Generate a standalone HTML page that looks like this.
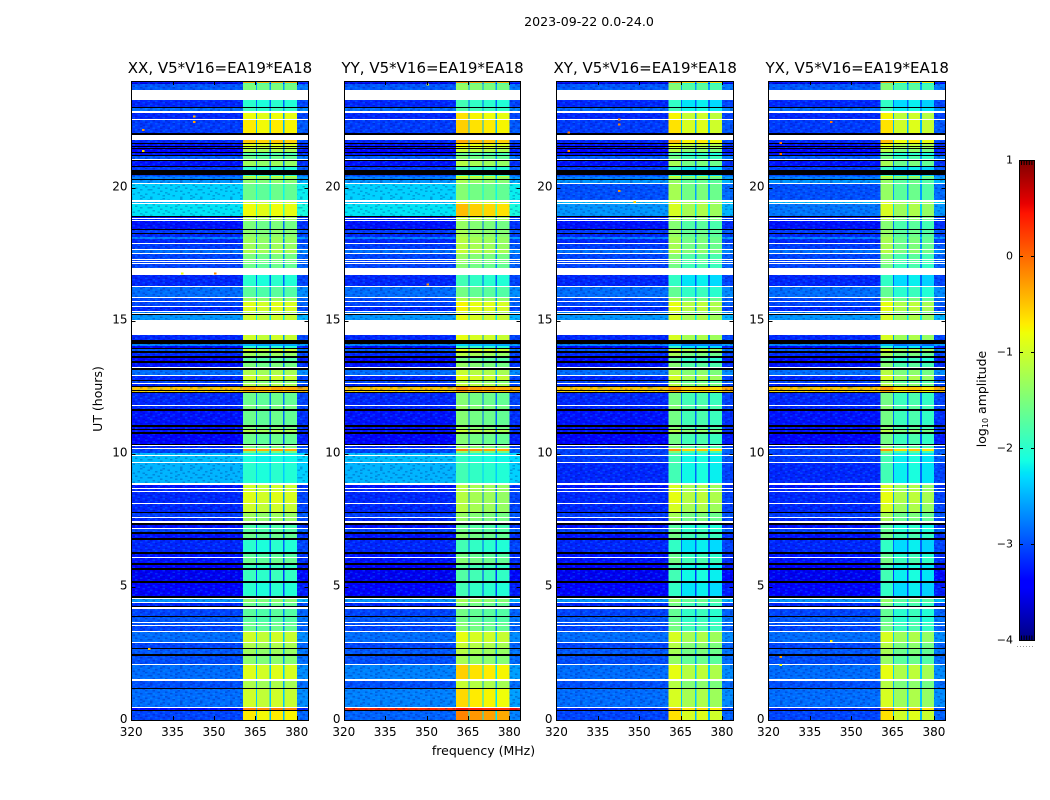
<!DOCTYPE html>
<html>
<head>
<meta charset="utf-8">
<title>2023-09-22 0.0-24.0</title>
<style>
html,body{margin:0;padding:0;background:#fff;}
svg{display:block;}
text{font-family:"DejaVu Sans","Liberation Sans",sans-serif;fill:#000;}
</style>
</head>
<body>
<svg id="fig" xmlns="http://www.w3.org/2000/svg" width="1050" height="800" viewBox="0 0 1050 800">
  <defs>
    <linearGradient id="jetGradient" x1="0" y1="1" x2="0" y2="0"></linearGradient>
    <pattern id="speckle" patternUnits="userSpaceOnUse" width="50" height="18"></pattern>
  </defs>
  <text x="589" y="26" font-size="12.6" text-anchor="middle">2023-09-22 0.0-24.0</text>
  <text x="483.5" y="755" font-size="12.5" text-anchor="middle">frequency (MHz)</text>
  <text x="0" y="0" font-size="12.5" text-anchor="middle" transform="translate(102,399) rotate(-90)">UT (hours)</text>
  <text x="0" y="0" font-size="12.5" text-anchor="middle" transform="translate(986,399) rotate(-90)">log<tspan font-size="8" dy="2">10</tspan><tspan dy="-2"> amplitude</tspan></text>
  <g id="panels"></g>
  <g id="colorbar"></g>
</svg>
<script>
// ---------- chart data ----------
const panelTitles = ["XX, V5*V16=EA19*EA18","YY, V5*V16=EA19*EA18","XY, V5*V16=EA19*EA18","YX, V5*V16=EA19*EA18"];
const xTickValues = [320,335,350,365,380];
const yTickValues = [0,5,10,15,20];
const colorbarTickValues = [1,0,-1,-2,-3,-4];
const colorbarTickLabels = ["1","0","\u22121","\u22122","\u22123","\u22124"];

// Time scans from UT 24 downward: length in time samples (24 h = 639 samples)
const W = null;   // flagged scan, not plotted (white)
const K = -9;     // zero-amplitude scan (black)
const scanSamples = [
 2,1,6,10,7,1,3,2,6,1,
 13,2,5,3,1,2,1,1,1,3,
 1,2,1,3,1,1,5,1,3,5,
 1,1,2,1,3,1,16,2,1,1,
 12,1,1,1,1,1,8,1,3,1,
 3,2,4,1,5,1,3,1,5,1,
 1,1,1,1,4,7,11,1,10,1,
 3,1,4,1,4,1,1,1,1,5,
 15,5,4,2,2,1,2,2,3,2,
 3,2,4,1,2,5,1,4,1,2,
 1,2,1,3,1,1,1,12,1,3,
 2,14,2,2,1,2,2,10,1,1,
 2,1,2,2,2,1,6,1,20,2,
 3,1,2,1,11,1,8,1,4,1,
 3,2,2,3,1,3,2,4,2,12,
 2,3,1,5,2,3,2,11,2,13,
 2,1,3,1,3,1,2,7,1,5,
 1,2,1,5,1,10,1,5,1,5,
 2,8,1,14,2,7,1,18,1,2,
 1,9
];
// Off-band level (log10 amplitude) of each scan
const scanOffBand = [
 -3.3,-3.6,-2.95,W,-3.2,K,-2.85,W,-3.2,W,
 -3.1,K,W,-3.2,K,-3.3,K,-3.3,K,-3.4,
 K,-3.3,K,-2.95,W,K,-3.3,K,-3.1,K,
 -3.05,-2.85,-2.75,K,-2.65,W,-2.35,W,-2.45,W,
 -2.25,K,-3.3,W,-3.2,W,-3.3,K,-3.1,K,
 -3.2,-2.75,-3.2,W,-3.1,W,-2.85,W,-3.05,W,
 -3.05,W,-3.05,W,-3.05,W,-3.2,W,-2.85,W,
 -3.05,W,-3.05,W,-3.2,W,-2.75,W,K,-2.65,
 W,-3.2,K,-2.75,-3.4,K,-2.95,K,-3.2,K,
 -3.4,K,-3.3,W,K,-2.85,W,-3.2,K,-3.05,
 W,-3.2,K,-0.5,K,-0.6,K,-3.2,W,-3.2,
 K,-3.3,K,-3.3,K,-3.3,K,-3.4,K,W,
 -3.2,W,-3.05,-3.05,-2.45,W,-2.45,W,-2.5,W,
 -3.3,W,-3.2,W,-3.2,W,-3.2,K,-3.1,W,
 -3.2,W,K,-3.3,W,-3.05,K,-3.3,K,-3.2,
 K,-3.3,W,-3.3,K,-3.4,K,-3.5,K,-3.4,
 K,W,-2.65,W,-3.2,K,W,-3.05,K,-2.95,
 W,-3.0,W,-3.05,W,-2.85,W,-3.05,K,-2.95,
 K,-3.0,W,-2.85,W,-3.0,K,-2.85,W,-3.4,
 K,-3.05
];
// In-band level (log10 amplitude) of each scan, 360.6-380 MHz
const scanInBand = [
 -0.3,-1.8,-1.5,W,-2.0,K,-1.9,W,-0.8,W,
 -0.7,K,W,-0.5,K,-0.9,K,-1.0,K,-1.2,
 K,-1.8,K,-1.6,W,K,-1.3,K,-2.0,K,
 -2.0,-1.0,-1.3,K,-1.4,W,-1.6,W,-1.0,W,
 -0.8,K,-1.2,W,-1.2,W,-1.5,K,-1.4,K,
 -1.4,-1.3,-1.3,W,-1.3,W,-1.2,W,-1.5,W,
 -1.5,W,-1.5,W,-1.6,W,-2.0,W,-1.7,W,
 -1.3,W,-0.9,W,-0.9,W,-1.2,W,K,-1.0,
 W,-1.0,K,-2.5,-2.0,K,-1.0,K,-1.3,K,
 -1.7,K,-1.5,W,K,-1.2,W,-1.0,K,-1.4,
 W,-1.2,K,-0.3,K,-0.4,K,-1.6,W,-1.5,
 K,-1.6,K,-1.5,K,-1.2,K,-1.6,K,W,
 -1.5,W,-0.3,-1.5,-2.1,W,-2.1,W,-2.0,W,
 -1.0,W,-1.0,W,-0.9,W,-1.0,K,-1.3,W,
 -1.3,W,K,-1.8,W,-1.7,K,-1.6,K,-2.0,
 K,-1.7,W,-1.6,K,-1.9,K,-1.9,K,-2.0,
 K,W,-1.4,W,-1.6,K,W,-1.7,K,-1.7,
 W,-1.6,W,-1.6,W,-1.0,W,-1.2,K,-1.3,
 K,-1.4,W,-0.9,W,-1.2,K,-1.0,W,-0.1,
 K,-0.7
];

// Sub-band edges (MHz) and per-correlation offsets of the four sub-bands
const subBandStart = [360.6,365.6,370.7,375.6];
const subBandEnd = [365.2,370.2,375.0,380.0];
const subBandShiftXX = [0,-0.08,0,-0.05];
const subBandShiftYY = [0.15,0.05,0,-0.05];
const subBandShiftXY = [0.05,-0.25,-0.2,-0.3];
const subBandShiftYX = [0.05,-0.3,-0.2,-0.35];

// Scan-specific corrections: polarization panel, scan number (1-based), levels
const fixPanel = [1,1,1,1,1,1,1,1,1,1,1, 2,2,2,2,2,2, 3,3,3,3,3,3];
const fixScan = [190,192,188,184,41,131,133,135,137,139,141, 37,41,125,127,129,190, 37,41,125,127,129,190];
const fixOffBand = [0.35,-2.9,-2.75,-2.75,-2.25,-3.3,-3.2,-3.2,-3.2,-3.1,-3.2, -3.0,-2.65,-3.1,-3.1,-3.2,-3.2, -3.0,-2.8,-3.1,-3.1,-3.2,-3.2];
const fixInBand = [0.35,-0.3,-0.75,-0.7,-0.6,-1.3,-1.3,-1.3,-1.3,-1.5,-1.5, -1.3,-1.0,-1.9,-1.9,-1.9,-0.4, -1.4,-1.0,-1.9,-1.9,-1.9,-0.3];

// Isolated hot pixels
const hotPanel = [0,0,0,0,0,0,0, 1,1, 2,2,2,2,2,2, 3,3,3,3,3,3];
const hotFreq = [342.4,342.4,324,324,350,338,326, 350,350, 342.4,342.4,324,324,342.4,348, 342.4,324,324,324,342.4,324];
const hotUT = [22.7,22.5,22.2,21.4,16.8,16.8,2.7, 23.9,16.4, 22.6,22.4,22.1,21.4,19.9,19.5, 22.5,21.7,21.3,2.4,3.0,2.1];
const hotLevel = [-0.4,-0.3,-0.3,-0.6,-0.2,-0.8,-0.5, -0.9,-0.2, -0.2,-0.1,-0.1,-0.2,-0.2,-0.6, -0.1,-0.1,0,-0.3,-0.7,-0.8];

// Receiver-noise texture tile, sketched by eye ('d' darker, 'l' lighter)
const speckleRows = [
 "d..l.d...l..dl..d.l.",
 ".l..d..dl...d...l..d",
 "..d...l...d...ld...l",
 "l...dl..d..l.d...d..",
 ".d.l...l...d...l..d.",
 "...d..d..ld...d...l.",
 "dl...l..d....l..d..d",
 "..l.d...l.d.d..l...l",
 ".d...ld....l...d.l..",
 "l..d...d.l...dl...d.",
 "..l..d...d.l....d..l",
 "d...l..l....d.l..d.."
];

// ---------- layout ----------
const NS = "http://www.w3.org/2000/svg";
const panelLeft = [131.2,343.8,556.4,768.4];
const panelWidth = 176.6, plotTop = 81, plotBottom = 720;
const freqMin = 320, freqMax = 384, utMax = 24, samplesPerDay = 639;
const cbarLeft = 1019, cbarWidth = 15, cbarTop = 160, cbarBottom = 640, cbarMin = -4, cbarMax = 1;

function xScale(p, f){ return panelLeft[p] + (f - freqMin) / (freqMax - freqMin) * panelWidth; }
function yScale(ut){ return plotBottom - ut / utMax * (plotBottom - plotTop); }
function cbarScale(v){ return cbarBottom - (v - cbarMin) / (cbarMax - cbarMin) * (cbarBottom - cbarTop); }

function interp(t, pts){
  for (let i = 1; i < pts.length; i++){
    if (t <= pts[i][0]){
      const a = pts[i-1], b = pts[i];
      return a[1] + (t - a[0]) / (b[0] - a[0]) * (b[1] - a[1]);
    }
  }
  return pts[pts.length-1][1];
}
function jet(t){
  t = Math.max(0, Math.min(1, t));
  const r = interp(t, [[0,0],[0.35,0],[0.66,1],[0.89,1],[1,0.5]]);
  const g = interp(t, [[0,0],[0.125,0],[0.375,1],[0.64,1],[0.91,0],[1,0]]);
  const b = interp(t, [[0,0.5],[0.11,1],[0.34,1],[0.65,0],[1,0]]);
  return "rgb(" + Math.round(r*255) + "," + Math.round(g*255) + "," + Math.round(b*255) + ")";
}
function levelColor(v){ return jet((v - cbarMin) / (cbarMax - cbarMin)); }

function svgEl(parent, tag, attrs){
  const el = document.createElementNS(NS, tag);
  for (const k in attrs) el.setAttribute(k, attrs[k]);
  parent.appendChild(el);
  return el;
}

// texture tile
const speckleTile = document.getElementById("speckle");
speckleRows.forEach(function(row, r){
  row.split("").forEach(function(ch, c){
    if (ch === ".") return;
    svgEl(speckleTile, "rect", {x:c*2.5, y:r*1.5, width:2.5, height:1.5, fill:ch === "d" ? "rgba(0,0,110,0.24)" : "rgba(0,210,255,0.20)"});
  });
});

// ---------- heatmap panels ----------
const panelsGroup = document.getElementById("panels");
const subBandShifts = [subBandShiftXX, subBandShiftYY, subBandShiftXY, subBandShiftYX];

function scanLevels(p, idx){
  let off = scanOffBand[idx], inb = scanInBand[idx];
  for (let i = 0; i < fixPanel.length; i++){
    if (fixPanel[i] === p && fixScan[i] === idx + 1){ off = fixOffBand[i]; inb = fixInBand[i]; }
  }
  return [off, inb];
}

function drawCell(group, p, f0, f1, ut0, ut1, level){
  const x0 = xScale(p, f0), x1 = xScale(p, f1), y0 = yScale(ut0), y1 = yScale(ut1);
  const cell = svgEl(group, "rect", {x:x0, y:y0, width:x1-x0, height:y1-y0, fill:levelColor(level), "shape-rendering":"crispEdges"});
  
  
}

panelTitles.forEach(function(title, p){
  const g = svgEl(panelsGroup, "g", {});
  
  

  const heat = svgEl(g, "g", {});
  
  

  let ut = utMax;
  scanSamples.forEach(function(n, idx){
    const utLow = ut - n / samplesPerDay * utMax;
    const lv = scanLevels(p, idx);
    const off = lv[0], inb = lv[1];
    if (off === K){
      const band = svgEl(heat, "rect", {x:xScale(p,freqMin), y:yScale(ut), width:panelWidth, height:yScale(utLow)-yScale(ut), fill:"#000", "shape-rendering":"crispEdges"});
      
      
    } else if (off !== W){
      const shifts = subBandShifts[p];
      const gap = off + 0.25 * (inb - off);
      drawCell(heat, p, freqMin, subBandStart[0], ut, utLow, off);
      for (let b = 0; b < 4; b++){
        drawCell(heat, p, subBandStart[b], subBandEnd[b], ut, utLow, inb + shifts[b]);
        if (b < 3) drawCell(heat, p, subBandEnd[b], subBandStart[b+1], ut, utLow, gap);
      }
      drawCell(heat, p, subBandEnd[3], freqMax, ut, utLow, off + 0.15);
      const tex = svgEl(heat, "rect", {x:xScale(p,freqMin), y:yScale(ut), width:xScale(p,subBandStart[0])-xScale(p,freqMin), height:yScale(utLow)-yScale(ut), fill:"url(#speckle)", "shape-rendering":"crispEdges"});
      
      
      const texEnd = svgEl(heat, "rect", {x:xScale(p,subBandEnd[3]), y:yScale(ut), width:xScale(p,freqMax)-xScale(p,subBandEnd[3]), height:yScale(utLow)-yScale(ut), fill:"url(#speckle)", "shape-rendering":"crispEdges"});
      
      
    }
    ut = utLow;
  });

  hotPanel.forEach(function(hp, i){
    if (hp !== p) return;
    const dot = svgEl(heat, "rect", {x:xScale(p,hotFreq[i]), y:yScale(hotUT[i]), width:2.5, height:2, fill:levelColor(hotLevel[i]), "shape-rendering":"crispEdges"});
    
    
  });

  const L = Math.round(panelLeft[p]) + 0.5, R = Math.round(panelLeft[p] + panelWidth) + 0.5;
  const frame = svgEl(g, "rect", {x:L, y:plotTop+0.5, width:R-L, height:plotBottom-plotTop, fill:"none", stroke:"#000", "stroke-width":1});
  
  

  const t = svgEl(g, "text", {x:panelLeft[p] + panelWidth/2 + 0.5, y:73, "font-size":15, "text-anchor":"middle"});
  
  
  t.textContent = title;

  xTickValues.forEach(function(v){
    const x = Math.round(xScale(p, v)) + 0.5;
    const t1 = svgEl(g, "line", {x1:x, x2:x, y1:plotBottom, y2:plotBottom-4, stroke:"#000"});
    
    
    const t2 = svgEl(g, "line", {x1:x, x2:x, y1:plotTop, y2:plotTop+4, stroke:"#000"});
    
    
    const lbl = svgEl(g, "text", {x:xScale(p, v), y:736, "font-size":12, "text-anchor":"middle"});
    
    
    lbl.textContent = v;
  });
  yTickValues.forEach(function(v){
    const y = Math.round(yScale(v)) + 0.5;
    const t1 = svgEl(g, "line", {x1:L, x2:L+4, y1:y, y2:y, stroke:"#000"});
    
    
    const t2 = svgEl(g, "line", {x1:R, x2:R-4, y1:y, y2:y, stroke:"#000"});
    
    
    const lbl = svgEl(g, "text", {x:L-4, y:yScale(v)+2.8, "font-size":12, "text-anchor":"end"});
    
    
    lbl.textContent = v;
  });
});

// ---------- colorbar ----------
const grad = document.getElementById("jetGradient");
[0,0.11,0.125,0.34,0.35,0.375,0.64,0.65,0.66,0.89,0.91,1].forEach(function(s){
  svgEl(grad, "stop", {offset:s, "stop-color":jet(s)});
});
const cb = document.getElementById("colorbar");
const cbRect = svgEl(cb, "rect", {x:cbarLeft+0.5, y:cbarTop+0.5, width:cbarWidth, height:cbarBottom-cbarTop, fill:"url(#jetGradient)", stroke:"#000", "stroke-width":1});



colorbarTickValues.forEach(function(v, i){
  const y = Math.round(cbarScale(v)) + 0.5;
  if (v !== cbarMin && v !== cbarMax){
    const a = svgEl(cb, "line", {x1:cbarLeft, x2:cbarLeft+4, y1:y, y2:y, stroke:"#000"});
    
    
    const b = svgEl(cb, "line", {x1:cbarLeft+cbarWidth+1, x2:cbarLeft+cbarWidth-3, y1:y, y2:y, stroke:"#000"});
    
    
  }
  const lbl = svgEl(cb, "text", {x:1013, y:cbarScale(v)+3.5, "font-size":11, "text-anchor":"end"});
  
  
  lbl.textContent = colorbarTickLabels[i];
});

const capTop = svgEl(cb, "line", {x1:cbarLeft+2, x2:cbarLeft+cbarWidth-1, y1:cbarTop+2.5, y2:cbarTop+2.5, stroke:"#000", "stroke-width":5, "stroke-dasharray":"1 1.6"});


const capBottom = svgEl(cb, "line", {x1:cbarLeft+2, x2:cbarLeft+cbarWidth-1, y1:cbarBottom-2, y2:cbarBottom-2, stroke:"#000", "stroke-width":5, "stroke-dasharray":"1 1.6"});


const dots = svgEl(cb, "line", {x1:1017, x2:1035, y1:646.5, y2:646.5, stroke:"#999", "stroke-dasharray":"1 2"});


</script>
</body>
</html>
